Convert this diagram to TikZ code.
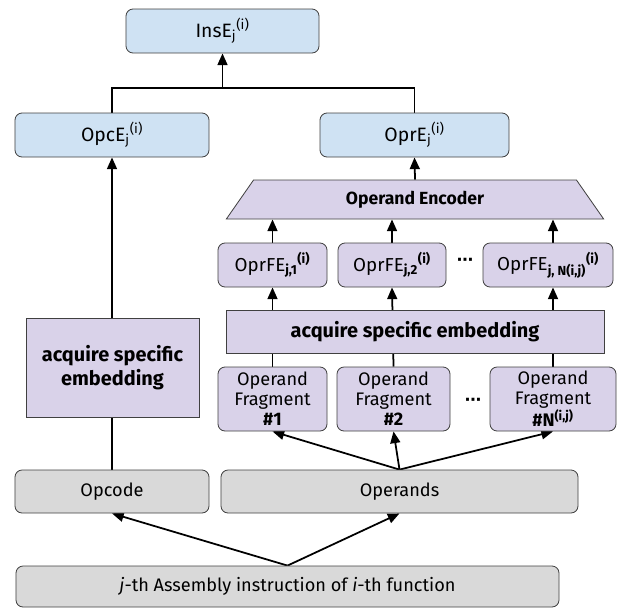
\documentclass[tikz,border=0pt]{standalone}
\usepackage{fontspec}
\setmainfont{Fira Sans}
\newfontfamily\dotsfont{DejaVu Sans}
\usetikzlibrary{arrows.meta}
\usetikzlibrary{positioning}
\usetikzlibrary{shapes.geometric}
\usetikzlibrary{backgrounds}

\definecolor{embblue}{HTML}{CFE2F3}
\definecolor{embpurple}{HTML}{D9D2E9}
\definecolor{embgrey}{HTML}{D9D9D9}

% labels with sub- and superscript
\newcommand{\emb}[3]{#1\textsubscript{#2}\textsuperscript{#3}}
\newcommand{\femb}[3]{#1\textsubscript{\textbf{#2}}\textsuperscript{\textbf{#3}}}

\tikzset{
  box/.style={draw=black!75, line width=0.7pt, align=center, inner sep=0pt,
    font=\fontsize{15.5}{17}\selectfont},
  embbox/.style={box, rounded corners=6pt, fill=embblue, minimum height=1.32cm,
    font=\fontsize{16.5}{18}\selectfont},
  fragbox/.style={box, rounded corners=6pt, fill=embpurple},
  acqbox/.style={box, fill=embpurple, font=\fontsize{17}{20}\selectfont\bfseries},
  inbox/.style={box, rounded corners=6pt, fill=embgrey},
  dotsnode/.style={inner sep=0pt, font=\fontsize{14}{16}\selectfont\dotsfont\bfseries},
  arr/.style={-{Triangle[length=10pt,width=8.5pt]}, line width=1.5pt},
  link/.style={line width=1.5pt},
}

\begin{document}
\begin{tikzpicture}[x=0.03cm,y=-0.03cm,node distance=2cm,on grid]
   \useasboundingbox (0,0) rectangle (628,608);

   \node[embbox, minimum width=5.79cm] (ins_e) at (222.5,31) {\emb{InsE}{j}{(i)}};
   \node[embbox, minimum width=5.82cm] (opc_e) at (112,135) {\emb{OpcE}{j}{(i)}};
   \node[embbox, minimum width=5.67cm] (opr_e) at (414.5,135) {\emb{OprE}{j}{(i)}};

   \node[box, trapezium, trapezium stretches=true, trapezium left angle=56,
     trapezium right angle=56, fill=embpurple, minimum width=11.34cm,
     minimum height=1.17cm, font=\fontsize{15}{17}\selectfont\bfseries] (enc) at (415,199.5) {Operand Encoder};

   \node[fragbox, minimum width=3.27cm, minimum height=1.32cm, font=\fontsize{16}{18}\selectfont] (fe_1) at (272.5,265) {\femb{OprFE}{j,1}{(i)}};
   \node[fragbox, minimum width=3.24cm, minimum height=1.32cm, font=\fontsize{16}{18}\selectfont] (fe_2) [right=3.585cm of fe_1] {\femb{OprFE}{j,2}{(i)}};
   \node[fragbox, minimum width=3.9cm, minimum height=1.32cm, font=\fontsize{16}{18}\selectfont] (fe_n) [right=4.68cm of fe_2] {\femb{OprFE}{j, N(i,j)}{(i)}};
   \node[dotsnode] (dots_fe) at (465,262) {⋯};

   \node[acqbox, minimum width=11.34cm, minimum height=1.29cm] (acq_r) at (415,331.5) {acquire specific embedding};

   \node[fragbox, minimum width=3.27cm, minimum height=1.92cm] (frag_1) at (272.5,399) {Operand\\Fragment\\\textbf{\#1}};
   \node[fragbox, minimum width=3.39cm, minimum height=1.92cm] (frag_2) [right=3.63cm of frag_1] {Operand\\Fragment\\\textbf{\#2}};
   \node[fragbox, minimum width=3.78cm, minimum height=1.92cm] (frag_n) [right=4.785cm of frag_2] {Operand\\Fragment\\\textbf{\#N\textsuperscript{(i,j)}}};
   \node[dotsnode] (dots_frag) at (473,402) {⋯};

   \node[acqbox, minimum width=5.19cm, minimum height=2.97cm] (acq_l) at (112.5,367.5) {acquire specific\\embedding};

   \node[inbox, minimum width=5.82cm, minimum height=1.29cm] (opcode) at (112,491.5) {Opcode};
   \node[inbox, minimum width=10.71cm, minimum height=1.29cm] (operands) at (399.5,491.5) {Operands};
   \node[inbox, minimum width=16.29cm, minimum height=1.23cm] (instr) at (287.5,586.5) {\textit{j}-th Assembly instruction of \textit{i}-th function};

   \coordinate (join) at (222.5,88);

   \begin{scope}[on background layer]
    \draw[link] (opc_e.north) |- (join) -| (opr_e.north);
    \draw[arr] (join) -- (ins_e.south);
    \draw[arr] (enc.north) -- (opr_e.south);
    \draw[arr] (fe_1.north) -- (fe_1.north |- enc.south);
    \draw[arr] (fe_2.north) -- (fe_2.north |- enc.south);
    \draw[arr] (frag_n.north |- fe_n.north) -- (frag_n.north |- enc.south);
    \draw[arr] (frag_1.north) -- (fe_1.south);
    \draw[arr] (frag_2.north) -- (fe_2.south);
    \draw[arr] (frag_n.north) -- (frag_n.north |- fe_n.south);
    \draw[arr] (opcode.north) -- (opc_e.south);
    \draw[arr] (operands.north) -- (frag_1.south);
    \draw[arr] (operands.north) -- (frag_2.south);
    \draw[arr] (operands.north) -- (frag_n.south);
    \draw[arr] (instr.north) -- (opcode.south);
    \draw[arr] (instr.north) -- (operands.south);
   \end{scope}
\end{tikzpicture}
\end{document}
